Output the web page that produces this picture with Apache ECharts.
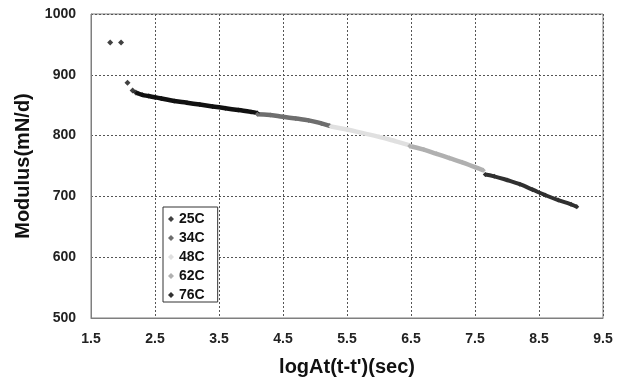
<!DOCTYPE html>
<html><head><meta charset="utf-8">
<script src="https://cdn.jsdelivr.net/npm/echarts@6/dist/echarts.min.js"></script>
<style>html,body{margin:0;padding:0;background:#fff}#c{width:622px;height:382px}</style>
</head><body><div id="c"></div>
<script>
// tick labels
const xTicks = [1.5, 2.5, 3.5, 4.5, 5.5, 6.5, 7.5, 8.5, 9.5];
const yTicks = [500, 600, 700, 800, 900, 1000];
// series names
const names = ['25C', '34C', '48C', '62C', '76C'];
// 25C isolated early points
const x25a = [1.80, 1.97, 2.07, 2.15, 2.20];
const y25a = [953, 953, 887, 874, 871];
// 25C dense band
const x25 = [2.22, 2.3, 2.4, 2.5, 2.6, 2.8, 3.0, 3.2, 3.4, 3.6, 3.8, 4.0, 4.1];
const y25 = [870, 867, 865, 863, 861, 857, 854, 851, 848, 845, 842, 839, 837];
const x34 = [4.1, 4.3, 4.5, 4.7, 4.9, 5.1, 5.23];
const y34 = [835, 834, 831, 828, 825, 820, 816];
const x48 = [5.25, 5.5, 5.75, 6.0, 6.25, 6.48];
const y48 = [815, 810, 804, 798, 791, 784];
const x62 = [6.48, 6.7, 6.9, 7.1, 7.3, 7.5, 7.63];
const y62 = [783, 777, 770, 763, 756, 748, 743];
const x76 = [7.66, 7.8, 8.0, 8.2, 8.4, 8.6, 8.8, 9.0, 9.09];
const y76 = [736, 733, 727, 720, 711, 702, 694, 687, 683];

const colors = {'25C':'#111111','34C':'#6e6e6e','48C':'#e0e0e0','62C':'#b0b0b0','76C':'#303030'};
const zip = (a, b) => a.map((v, i) => [v, b[i]]);
const band = (name, xs, ys, w) => ({
  name, type: 'line', data: zip(xs, ys), showSymbol: true, symbol: 'diamond', symbolSize: 5,
  smooth: true, lineStyle: {width: w, color: colors[name]}, itemStyle: {color: colors[name]},
  animation: false, z: 3
});
const chart = echarts.init(document.getElementById('c'));
const F = 'Arial, "Liberation Sans", sans-serif';
chart.setOption({
  animation: false,
  grid: {left: 91, right: 19, top: 14, bottom: 62, show: true, borderColor: '#7f7f7f', borderWidth: 1},
  xAxis: {
    type: 'value', min: xTicks[0], max: xTicks[xTicks.length-1], interval: 1,
    name: "logAt(t-t')(sec)", nameLocation: 'middle', nameGap: 39,
    nameTextStyle: {fontFamily: F, fontWeight: 'bold', fontSize: 20, color: '#111'},
    axisLine: {show: true, onZero: false, lineStyle: {color: '#7f7f7f'}},
    axisTick: {show: false},
    axisLabel: {fontFamily: F, fontWeight: 'bold', fontSize: 14, color: '#222', margin: 14, formatter: v => v.toFixed(1)},
    splitLine: {show: true, lineStyle: {type: [2, 2], color: '#555', width: 1}}
  },
  yAxis: {
    type: 'value', min: yTicks[0], max: yTicks[yTicks.length-1], interval: 100,
    name: 'Modulus(mN/d)', nameLocation: 'middle', nameGap: 53,
    nameTextStyle: {fontFamily: F, fontWeight: 'bold', fontSize: 20, color: '#111'},
    axisLine: {show: true, lineStyle: {color: '#7f7f7f'}},
    axisTick: {show: false},
    axisLabel: {fontFamily: F, fontWeight: 'bold', fontSize: 14, color: '#222', margin: 15, formatter: v => String(v)},
    splitLine: {show: true, lineStyle: {type: [2, 2], color: '#555', width: 1}}
  },
  legend: {
    orient: 'vertical', left: 163, top: 207, data: names, icon: 'diamond',
    itemWidth: 6, itemHeight: 6, itemGap: 5, padding: [5, 13, 0, 5],
    borderColor: '#333', borderWidth: 1, backgroundColor: '#fff',
    textStyle: {fontFamily: F, fontWeight: 'bold', fontSize: 14, color: '#111'}
  },
  series: [
    {name: '25C', type: 'scatter', data: zip(x25a, y25a), symbol: 'diamond', symbolSize: 6,
     itemStyle: {color: colors['25C']}, z: 3},
    band('25C', x25, y25, 4.5),
    band('34C', x34, y34, 4.5),
    band('48C', x48, y48, 4.5),
    band('62C', x62, y62, 4.5),
    band('76C', x76, y76, 4)
  ]
});
</script></body></html>
